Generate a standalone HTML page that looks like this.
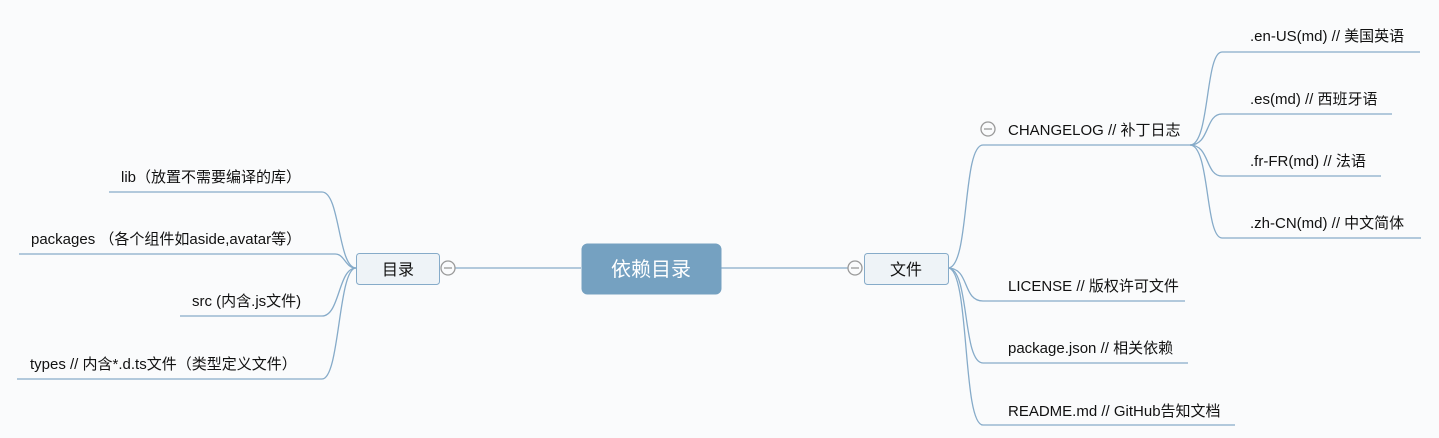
<!DOCTYPE html>
<html><head><meta charset="utf-8"><style>
html,body{margin:0;padding:0;background:#fafbfc;}
svg{display:block}
text{font-family:"Liberation Sans","Noto Sans CJK SC",sans-serif;font-size:15px;fill:#111;}
</style></head><body>
<svg width="1439" height="438" viewBox="0 0 1439 438" xmlns="http://www.w3.org/2000/svg">
<g fill="none" stroke="#86abc9" stroke-width="1.3">
<line x1="455" y1="268" x2="581" y2="268"/>
<line x1="721" y1="268" x2="848" y2="268"/>
<path d="M356 268 C338 268 340 192 322 192 L109 192"/>
<path d="M356 268 C345 268 345 254 335 254 L19 254"/>
<path d="M356 268 C338 268 340 316 322 316 L180 316"/>
<path d="M356 268 C338 268 340 379 322 379 L17 379"/>
<path d="M948 268 C970 268 962 145 983 145 L1190 145"/>
<path d="M948 268 C970 268 962 301 983 301 L1185 301"/>
<path d="M948 268 C970 268 962 363 983 363 L1188 363"/>
<path d="M948 268 C970 268 962 425 983 425 L1235 425"/>
<path d="M1190 145 C1210 145 1205 52 1222 52 L1420 52"/>
<path d="M1190 145 C1210 145 1205 114 1222 114 L1392 114"/>
<path d="M1190 145 C1210 145 1205 176 1222 176 L1381 176"/>
<path d="M1190 145 C1210 145 1205 238 1222 238 L1421 238"/>
</g>
<rect x="581.5" y="243.5" width="140" height="51" rx="6" fill="#75a1c1"/>
<text x="651" y="276" text-anchor="middle" style="font-size:20px;fill:#fff">依赖目录</text>
<rect x="356.5" y="253.5" width="83" height="31" rx="3" fill="#eef3f7" stroke="#86abc9"/>
<text x="398" y="275" text-anchor="middle" style="font-size:16px">目录</text>
<rect x="864.5" y="253.5" width="84" height="31" rx="3" fill="#eef3f7" stroke="#86abc9"/>
<text x="906" y="275" text-anchor="middle" style="font-size:16px">文件</text>
<g fill="#fafbfc" stroke="#999" stroke-width="1.3">
<circle cx="448" cy="268" r="7"/><circle cx="855" cy="268" r="7"/><circle cx="988" cy="129" r="7"/>
</g>
<g stroke="#999" stroke-width="1.3"><line x1="444" y1="268" x2="452" y2="268"/><line x1="851" y1="268" x2="859" y2="268"/><line x1="984" y1="129" x2="992" y2="129"/></g>
<text x="121" y="182">lib（放置不需要编译的库）</text>
<text x="31" y="244">packages （各个组件如aside,avatar等）</text>
<text x="192" y="306">src (内含.js文件)</text>
<text x="30" y="369">types // 内含*.d.ts文件（类型定义文件）</text>
<text x="1008" y="135">CHANGELOG // 补丁日志</text>
<text x="1008" y="291">LICENSE // 版权许可文件</text>
<text x="1008" y="353">package.json // 相关依赖</text>
<text x="1008" y="416">README.md // GitHub告知文档</text>
<text x="1250" y="41">.en-US(md) // 美国英语</text>
<text x="1250" y="104">.es(md) // 西班牙语</text>
<text x="1250" y="166">.fr-FR(md) // 法语</text>
<text x="1250" y="228">.zh-CN(md) // 中文简体</text>
</svg>
</body></html>
